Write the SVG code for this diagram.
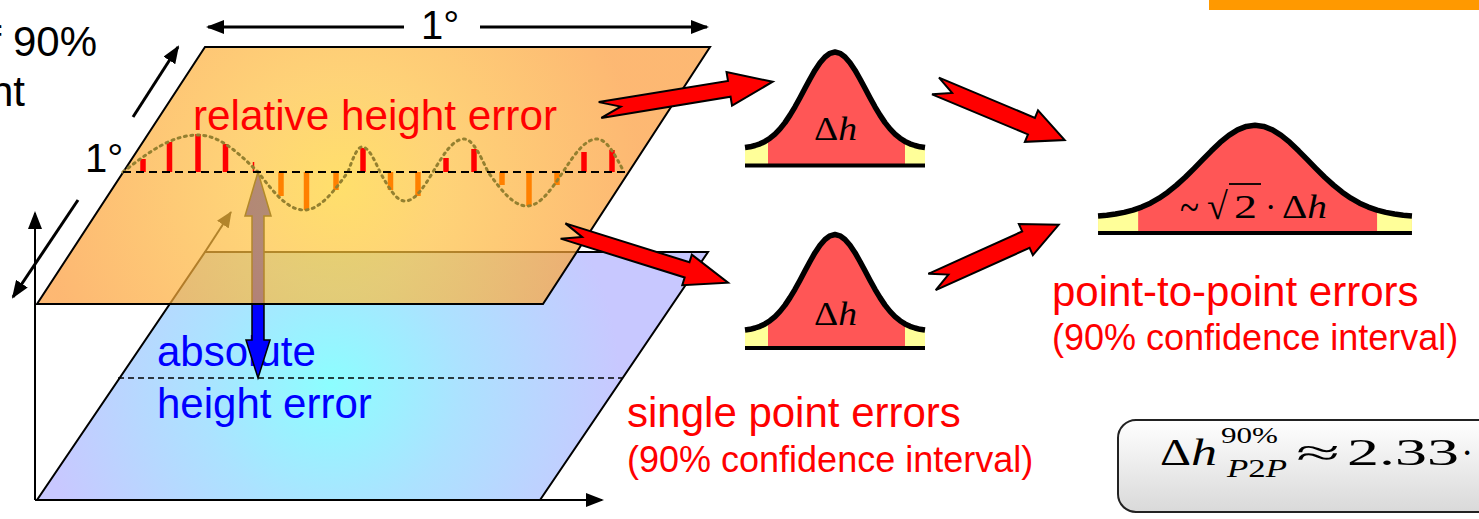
<svg xmlns="http://www.w3.org/2000/svg" width="1479" height="519" viewBox="0 0 1479 519">
<defs>
<style>
.sans{font-family:"Liberation Sans",Arial,sans-serif}
.serif{font-family:"Liberation Serif","DejaVu Serif",serif}
.edge{stroke:#000;stroke-width:2}
.ra{fill:#FF0000;stroke:#000;stroke-width:2;stroke-linejoin:miter}
.curve{fill:none;stroke:#000;stroke-width:5.5;stroke-linejoin:round}
.base{fill:none;stroke:#000;stroke-width:4}
.rbar{stroke:#FF0000;stroke-width:5.5}
.obar{stroke:#FF8000;stroke-width:5.5}
.ax{stroke:#000;stroke-width:2;fill:none}
.dim{stroke:#000;stroke-width:3;fill:none}
</style>
<radialGradient id="gOrange" gradientUnits="userSpaceOnUse" cx="340" cy="185" r="300">
<stop offset="0" stop-color="#FFD22D"/>
<stop offset="0.35" stop-color="#FEC03E"/>
<stop offset="1" stop-color="#FC9A37"/>
</radialGradient>
<radialGradient id="gBlue" gradientUnits="userSpaceOnUse" cx="330" cy="385" r="290">
<stop offset="0" stop-color="#8CFEFF"/>
<stop offset="0.45" stop-color="#ACE2FF"/>
<stop offset="1" stop-color="#C8C8FF"/>
</radialGradient>
<linearGradient id="gBox" x1="0" y1="0" x2="0" y2="1">
<stop offset="0" stop-color="#FFFFFF"/>
<stop offset="1" stop-color="#D9D9D9"/>
</linearGradient>
<marker id="ah" markerUnits="userSpaceOnUse" markerWidth="18" markerHeight="14" refX="16" refY="7" orient="auto-start-reverse"><path d="M0,0 L18,7 L0,14 z" fill="#000"/></marker>
<marker id="ahs" markerUnits="userSpaceOnUse" markerWidth="16" markerHeight="14" refX="15" refY="7" orient="auto"><path d="M0,0 L16,7 L0,14 z" fill="#000"/></marker>
<g id="distShape">
<path fill="#FF5656" d="M-90,-18 L-85,-18.7 L-80,-20 L-75,-21.7 L-70,-24.1 L-65,-27.3 L-60,-31.4 L-55,-36.6 L-50,-42.9 L-45,-50.4 L-40,-58.7 L-35,-67.8 L-30,-77.2 L-25,-86.5 L-20,-95.3 L-15,-102.7 L-10,-108.5 L-5,-112.2 L0,-113.5 L5,-112.2 L10,-108.5 L15,-102.7 L20,-95.3 L25,-86.5 L30,-77.2 L35,-67.8 L40,-58.7 L45,-50.4 L50,-42.9 L55,-36.6 L60,-31.4 L65,-27.3 L70,-24.1 L75,-21.7 L80,-20 L85,-18.7 L90,-18 L90,0 L-90,0 Z"/>
<path fill="#FFFF99" d="M-90,-18 L-85,-18.7 L-80,-20 L-75,-21.7 L-70,-24.1 L-67,-26 L-67,0 L-90,0 Z"/>
<path fill="#FFFF99" d="M70,-24.1 L75,-21.7 L80,-20 L85,-18.7 L90,-18 L90,0 L70,0 Z"/>
<path class="curve" vector-effect="non-scaling-stroke" d="M-90,-18 L-85,-18.7 L-80,-20 L-75,-21.7 L-70,-24.1 L-65,-27.3 L-60,-31.4 L-55,-36.6 L-50,-42.9 L-45,-50.4 L-40,-58.7 L-35,-67.8 L-30,-77.2 L-25,-86.5 L-20,-95.3 L-15,-102.7 L-10,-108.5 L-5,-112.2 L0,-113.5 L5,-112.2 L10,-108.5 L15,-102.7 L20,-95.3 L25,-86.5 L30,-77.2 L35,-67.8 L40,-58.7 L45,-50.4 L50,-42.9 L55,-36.6 L60,-31.4 L65,-27.3 L70,-24.1 L75,-21.7 L80,-20 L85,-18.7 L90,-18"/>
<path class="base" vector-effect="non-scaling-stroke" d="M-90,0 L90,0"/>
</g>
</defs>

<rect x="1209" y="0" width="270" height="10" fill="#FF9900"/>

<g id="cut-text" class="sans" font-size="42" fill="#000" text-anchor="end">
<text x="97" y="56">f 90%</text>
<text x="25" y="106">nt</text>
</g>

<g id="plane-absolute">
<polygon points="205,252 708,252 540,500 37,500" fill="url(#gBlue)" class="edge"/>
<line x1="118" y1="378" x2="622" y2="378" stroke="#000" stroke-width="1.5" stroke-dasharray="6 4"/>
<text class="sans" font-size="42" fill="#0000FF" x="157" y="366">absolute</text>
<text class="sans" font-size="42" fill="#0000FF" x="157" y="418">height error</text>
</g>

<g id="depth-axis">
<line x1="205" y1="252" x2="231" y2="212" stroke="#000" stroke-width="2" marker-end="url(#ahs)"/>
</g>

<g id="height-arrow">
<polygon points="258,172 271,216 264,216 264,340 270,340 258,378 246,340 252,340 252,216 245,216" fill="#0000FF" stroke="#000" stroke-width="1.5"/>
</g>

<g id="plane-relative">
<polygon points="205,47 710,47 543,304 37,304" fill="url(#gOrange)" fill-opacity="0.7" class="edge"/>
<text class="sans" font-size="42" fill="#FF0000" x="193" y="130" textLength="364" lengthAdjust="spacingAndGlyphs">relative height error</text>
<g id="error-bars">
<line class="rbar" x1="143" y1="172" x2="143" y2="159"/>
<line class="rbar" x1="169.5" y1="172" x2="169.5" y2="142"/>
<line class="rbar" x1="198" y1="172" x2="198" y2="134"/>
<line class="rbar" x1="225.5" y1="172" x2="225.5" y2="144"/>
<line x1="253.5" y1="172" x2="253.5" y2="162" stroke="#FF0000" stroke-width="1.5"/>
<line class="obar" x1="281" y1="172" x2="281" y2="196"/>
<line class="obar" x1="306.5" y1="172" x2="306.5" y2="210"/>
<line class="obar" x1="336" y1="172" x2="336" y2="190"/>
<line class="rbar" x1="363" y1="172" x2="363" y2="148"/>
<line class="obar" x1="390.5" y1="172" x2="390.5" y2="190"/>
<line class="obar" x1="418" y1="172" x2="418" y2="196"/>
<line class="rbar" x1="446" y1="172" x2="446" y2="158"/>
<line class="rbar" x1="474" y1="172" x2="474" y2="149"/>
<line class="obar" x1="502" y1="172" x2="502" y2="185"/>
<line class="obar" x1="529" y1="172" x2="529" y2="206"/>
<line class="obar" x1="557" y1="172" x2="557" y2="185"/>
<line class="rbar" x1="584" y1="172" x2="584" y2="152"/>
<line class="rbar" x1="612" y1="172" x2="612" y2="150"/>
</g>
<path d="M123,172 C147.8,152.8 171,135 198,135 C219.6,135 238.2,152.8 258,172 C273.2,191.8 287.4,210 304,210 C319.8,210 333.5,191.8 348,172 C352.6,159 357,147 362,147 C368.5,147 374,159 380,172 C388.3,187.1 396,201 405,201 C415.1,201 423.8,187.1 433,172 C443.2,154.8 452.8,139 464,139 C472.6,139 480.1,154.8 488,172 C500.9,189.7 513,206 527,206 C540,206 551.1,189.7 563,172 C574.2,154.8 584.8,139 597,139 C606.7,139 615.1,154.8 624,172" fill="none" stroke="#948030" stroke-width="3" stroke-dasharray="2 4.5" stroke-linecap="round"/>
<line x1="123" y1="172" x2="626" y2="172" stroke="#000" stroke-width="2" stroke-dasharray="8 5"/>
</g>

<g id="axes">
<line class="ax" x1="35" y1="500" x2="35" y2="213" marker-end="url(#ah)"/>
<line class="ax" x1="35" y1="500" x2="602" y2="500" marker-end="url(#ah)"/>
</g>

<g id="dimension-1deg-top">
<line class="dim" x1="208" y1="27" x2="404" y2="27" marker-start="url(#ah)"/>
<line class="dim" x1="480" y1="27" x2="707" y2="27" marker-end="url(#ah)"/>
<text class="sans" font-size="40" x="421" y="39">1°</text>
</g>

<g id="dimension-1deg-side">
<line class="dim" x1="133" y1="117" x2="178" y2="47" marker-end="url(#ah)"/>
<line class="dim" x1="78" y1="200" x2="13" y2="297" marker-end="url(#ah)"/>
<text class="sans" font-size="40" x="85" y="172">1°</text>
</g>

<g id="connectors">
<polygon class="ra" transform="translate(600,110) rotate(-9.3)" points="0,-8 131,-8 131,-17 175,0 131,17 131,8 0,8 21,0"/>
<polygon class="ra" transform="translate(563,231) rotate(17.4)" points="0,-8 130,-8 130,-16 173,0 130,16 130,8 0,8 20,0"/>
<polygon class="ra" transform="translate(935.5,86) rotate(22.7)" points="0,-9 104,-9 104,-17 140,0 104,17 104,9 0,9 18,0"/>
<polygon class="ra" transform="translate(932,282) rotate(-24.3)" points="0,-9 103,-9 103,-17 139,0 103,17 103,9 0,9 18,0"/>
</g>

<g id="dist-single-top">
<use href="#distShape" transform="translate(835,165.5)"/>
<text class="serif" font-size="34" x="814" y="140" textLength="43" lengthAdjust="spacingAndGlyphs">Δ<tspan font-style="italic">h</tspan></text>
</g>

<g id="dist-single-bottom">
<use href="#distShape" transform="translate(835,348)"/>
<text class="serif" font-size="34" x="814" y="325" textLength="43" lengthAdjust="spacingAndGlyphs">Δ<tspan font-style="italic">h</tspan></text>
</g>

<g id="dist-p2p">
<use href="#distShape" transform="translate(1255,233) scale(1.744,0.95)"/>
<g class="serif" font-size="34">
<text x="1180" y="222" font-size="44" textLength="19" lengthAdjust="spacingAndGlyphs">~</text>
<text x="1207" y="219" font-size="38">√</text>
<line x1="1229" y1="184" x2="1261" y2="184" stroke="#000" stroke-width="1.8"/>
<text x="1234" y="218" textLength="23" lengthAdjust="spacingAndGlyphs">2</text>
<text x="1265" y="218">·</text>
<text x="1282" y="218" textLength="45" lengthAdjust="spacingAndGlyphs">Δ<tspan font-style="italic">h</tspan></text>
</g>
</g>

<g id="label-single" class="sans" fill="#FF0000">
<text font-size="42" x="627" y="427">single point errors</text>
<text font-size="36" x="627" y="472">(90% confidence interval)</text>
</g>

<g id="label-p2p" class="sans" fill="#FF0000">
<text font-size="42" x="1052" y="306">point-to-point errors</text>
<text font-size="36" x="1052" y="350">(90% confidence interval)</text>
</g>

<g id="formula">
<rect x="1118" y="420" width="400" height="92" rx="18" fill="url(#gBox)" stroke="#222" stroke-width="2"/>
<g class="serif" fill="#000">
<text x="1160" y="465" font-size="37" textLength="31" lengthAdjust="spacingAndGlyphs">Δ</text>
<text x="1191" y="465" font-size="37" font-style="italic" textLength="26" lengthAdjust="spacingAndGlyphs">h</text>
<text x="1221" y="443" font-size="23" textLength="57" lengthAdjust="spacingAndGlyphs">90%</text>
<text x="1227" y="477" font-size="25" textLength="60" lengthAdjust="spacingAndGlyphs"><tspan font-style="italic">P</tspan>2<tspan font-style="italic">P</tspan></text>
<text x="1296" y="465" font-size="37" textLength="44" lengthAdjust="spacingAndGlyphs">≈</text>
<text x="1347" y="465" font-size="37" textLength="112" lengthAdjust="spacingAndGlyphs">2.33</text>
<text x="1461" y="465" font-size="37">·</text>
</g>
</g>
</svg>
